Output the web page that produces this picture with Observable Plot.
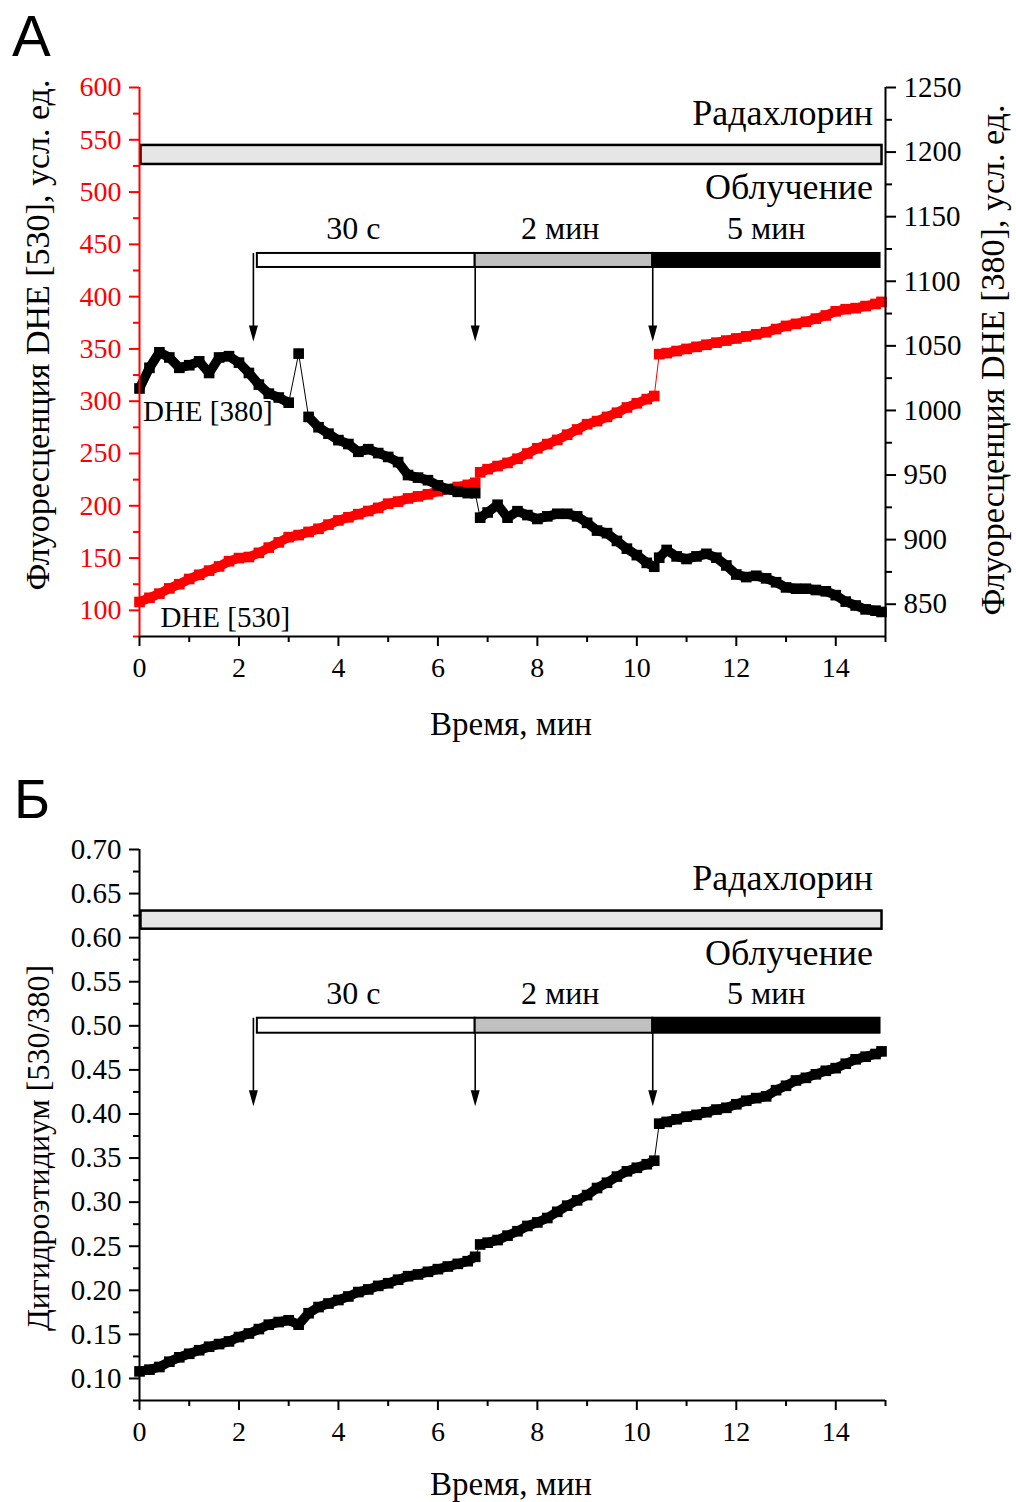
<!DOCTYPE html>
<html><head><meta charset="utf-8">
<script src="https://cdn.jsdelivr.net/npm/d3@7"></script>
<script src="https://cdn.jsdelivr.net/npm/@observablehq/plot@0.6"></script>
<style>
html,body{margin:0;padding:0;background:#fff;overflow:hidden;}
#wrap{position:relative;width:1016px;height:1502px;overflow:hidden;background:#fff;font-family:'Liberation Serif','Times New Roman',serif;color:#000;}
.abs{position:absolute;white-space:nowrap;line-height:1;}
.rot{transform:translate(-50%,-50%) rotate(-90deg);}
.ctr{transform:translate(-50%,-50%);}
.letter{font-family:'Liberation Sans',Arial,sans-serif;}
</style></head><body><div id="wrap"></div>
<script>
// ---- data (time, min) ----
const times = [0,0.2,0.4,0.6,0.8,1,1.2,1.4,1.6,1.8,2,2.2,2.4,2.6,2.8,3,3.2,3.4,3.6,3.8,4,4.2,4.4,4.6,4.8,5,5.2,5.4,5.6,5.8,6,6.2,6.4,6.6,6.75,6.85,7,7.2,7.4,7.6,7.8,8,8.2,8.4,8.6,8.8,9,9.2,9.4,9.6,9.8,10,10.2,10.35,10.45,10.6,10.8,11,11.2,11.4,11.6,11.8,12,12.2,12.4,12.6,12.8,13,13.2,13.4,13.6,13.8,14,14.2,14.4,14.6,14.8,14.92];
// DHE [530], left (red) axis
const dhe530 = [108,112,116,121,125,130,134,138,142,147,150,151,155,160,165,170,172,175,178,182,186,189,192,195,198,202,204,207,209,211,214,216,218,220,222,232,235,238,241,245,250,255,259,263,268,273,278,281,285,289,294,298,302,305,345,346,348,350,352,354,356,358,360,362,364,366,369,372,374,376,379,382,386,388,389,391,393,395];
// DHE [380], right axis
const dhe380 = [1017,1033,1045,1041,1033,1035,1038,1029,1041,1042,1037,1029,1020,1013,1010,1006,1044,995,987,982,977,974,968,970,967,964,960,950,948,946,942,939,937,936,936,917,921,927,917,922,919,916,918,920,920,918,913,907,905,899,893,888,882,879,886,892,887,885,887,889,886,880,873,871,872,870,867,863,862,862,861,860,857,852,849,846,845,844];
// Dihydroethidium ratio [530/380]
const ratio = [0.108,0.110,0.113,0.119,0.124,0.128,0.132,0.136,0.139,0.142,0.147,0.151,0.156,0.161,0.164,0.166,0.161,0.174,0.181,0.185,0.189,0.193,0.198,0.201,0.205,0.208,0.212,0.216,0.218,0.221,0.224,0.227,0.230,0.233,0.238,0.252,0.254,0.257,0.262,0.267,0.273,0.277,0.282,0.289,0.296,0.302,0.308,0.316,0.322,0.329,0.335,0.339,0.343,0.347,0.389,0.391,0.394,0.397,0.399,0.402,0.405,0.407,0.411,0.415,0.418,0.420,0.427,0.432,0.438,0.441,0.445,0.449,0.452,0.457,0.462,0.465,0.468,0.471];

// ---- ticks ----
const xTicks = [0,2,4,6,8,10,12,14];
const xMinor = [1,3,5,7,9,11,13,15];
const leftTicks = [100,150,200,250,300,350,400,450,500,550,600];
const leftMinor = [75,125,175,225,275,325,375,425,475,525,575];
const rightTicks = [850,900,950,1000,1050,1100,1150,1200,1250];
const rightMinor = [875,925,975,1025,1075,1125,1175,1225];
const ratioTicks = [0.10,0.15,0.20,0.25,0.30,0.35,0.40,0.45,0.50,0.55,0.60,0.65,0.70];
const ratioMinor = [0.075,0.125,0.175,0.225,0.275,0.325,0.375,0.425,0.475,0.525,0.575,0.625,0.675];

// ---- annotations (time in min) ----
const radachlorin = {x1: 0.03, x2: 14.93};
const irradiation = [
  {x1: 2.37, x2: 6.75, label: "30 с", mid: 4.30},
  {x1: 6.75, x2: 10.32, label: "2 мин", mid: 8.46},
  {x1: 10.32, x2: 14.89, label: "5 мин", mid: 12.6}
];
const arrowTimes = [2.29, 6.75, 10.32];
const jumpTimes = [6.8, 10.4];     // breaks between irradiation steps
const spikeTime = 3.2;             // isolated DHE[380] outlier
const labelRad = "Радахлорин";
const labelIrr = "Облучение";
const seriesLabels = [{t: 0.07, v: 281, text: "DHE [380]"}, {t: 0.42, v: 84.5, text: "DHE [530]"}];

// ---- scales ----
const L0 = 75, L1 = 600, R0 = 825, R1 = 1250;
const toLeft = v => L0 + (v - R0) * (L1 - L0) / (R1 - R0);
const fromLeft = v => R0 + (v - L0) * (R1 - R0) / (L1 - L0);
const seg = t => jumpTimes.filter(j => j < t).length;
const seg380 = t => Math.abs(t - spikeTime) < 0.05 ? "s" : (t < spikeTime ? "p" : "q") + seg(t);

const rowsA = times.map((t, i) => ({t, a: dhe530[i], b: toLeft(dhe380[i]), ga: seg(t), gb: seg380(t)}));
const rowsB = times.map((t, i) => ({t, r: ratio[i], g: seg(t)}));

const FONT = "'Liberation Serif','Times New Roman',serif";
const headSym = {draw(ctx) { ctx.moveTo(0, 0); ctx.lineTo(-4.5, -16); ctx.lineTo(4.5, -16); ctx.closePath(); }};
const SQ = 6.0;   // square marker radius
const BAND = 9.5; // band width joining markers

function annot(ys) {
  return [
    Plot.text([labelRad], {x: 14.75, y: ys.radText, text: d => d, textAnchor: "end", lineAnchor: "bottom", fontSize: 36, fill: "black"}),
    Plot.rect([radachlorin], {x1: "x1", x2: "x2", y1: ys.radLo, y2: ys.radHi, fill: "#e6e6e6", stroke: "black", strokeWidth: 2.5}),
    Plot.text([labelIrr], {x: 14.75, y: ys.irrText, text: d => d, textAnchor: "end", lineAnchor: "bottom", fontSize: 36, fill: "black"}),
    Plot.text(irradiation, {x: "mid", y: ys.segText, text: "label", textAnchor: "middle", lineAnchor: "bottom", fontSize: 32, fill: "black"}),
    Plot.ruleX(arrowTimes, {y1: ys.irrHi, y2: ys.tip + ys.headOff, stroke: "black", strokeWidth: 1.6}),
    Plot.dot(arrowTimes, {x: d => d, y: ys.tip, symbol: headSym, r: 5, fill: "black", stroke: "none"}),
    Plot.rect([irradiation[0]], {x1: "x1", x2: "x2", y1: ys.irrLo, y2: ys.irrHi, fill: "white", stroke: "black", strokeWidth: 2}),
    Plot.rect([irradiation[1]], {x1: "x1", x2: "x2", y1: ys.irrLo, y2: ys.irrHi, fill: "#c0c0c0", stroke: "black", strokeWidth: 2}),
    Plot.rect([irradiation[2]], {x1: "x1", x2: "x2", y1: ys.irrLo, y2: ys.irrHi, fill: "black", stroke: "black", strokeWidth: 2})
  ];
}

function series(rows, y, z, color) {
  return [
    Plot.line(rows, {x: "t", y, stroke: color, strokeWidth: 1}),
    Plot.line(rows, {x: "t", y, z, stroke: color, strokeWidth: BAND, strokeLinejoin: "round"}),
    Plot.dot(rows, {x: "t", y, symbol: "square", r: SQ, fill: color, stroke: "none"})
  ];
}

function xAxes(yMin) {
  return [
    Plot.axisX(xTicks, {anchor: "bottom", tickSize: 10, tickPadding: 11, strokeWidth: 2, fontSize: 28, label: null, tickFormat: d => String(d)}),
    Plot.axisX(xMinor, {anchor: "bottom", tickSize: 6, strokeWidth: 2, label: null, tickFormat: () => ""}),
    Plot.ruleY([yMin], {stroke: "black", strokeWidth: 2})
  ];
}

// ---- Panel A ----
const plotA = Plot.plot({
  width: 1016, height: 760,
  marginLeft: 139, marginRight: 131, marginTop: 87, marginBottom: 124,
  style: {fontFamily: FONT, fontSize: "28px", background: "white", overflow: "visible"},
  x: {domain: [0, 15], label: null},
  y: {domain: [L0, L1], label: null},
  marks: [
    ...annot({radText: 564.5, radLo: 526.4, radHi: 544.6, irrText: 493, segText: 455.6, irrLo: 427.9, irrHi: 441.3, tip: 357, headOff: 6}),
    ...series(rowsA, "a", "ga", "red"),
    ...series(rowsA, "b", "gb", "black"),
    Plot.text(seriesLabels, {x: "t", y: "v", text: "text", textAnchor: "start", lineAnchor: "bottom", fontSize: 29, fill: "black"}),
    Plot.axisY(leftTicks, {anchor: "left", tickSize: 10, tickPadding: 8, stroke: "red", fill: "red", strokeWidth: 2, fontSize: 28, label: null, tickFormat: d => String(d)}),
    Plot.axisY(leftMinor, {anchor: "left", tickSize: 6, stroke: "red", strokeWidth: 2, label: null, tickFormat: () => ""}),
    Plot.axisY(rightTicks.map(toLeft), {anchor: "right", tickSize: 10, tickPadding: 8, stroke: "black", fill: "black", strokeWidth: 2, fontSize: 29, label: null, tickFormat: d => String(Math.round(fromLeft(d)))}),
    Plot.axisY(rightMinor.map(toLeft), {anchor: "right", tickSize: 6, stroke: "black", strokeWidth: 2, label: null, tickFormat: () => ""}),
    ...xAxes(L0),
    Plot.ruleX([0], {stroke: "red", strokeWidth: 2}),
    Plot.ruleX([15], {stroke: "black", strokeWidth: 2})
  ]
});

// ---- Panel B ----
const B0 = 0.075, B1 = 0.70;
const plotB = Plot.plot({
  width: 1016, height: 742,
  marginLeft: 139, marginRight: 131, marginTop: 89, marginBottom: 102,
  style: {fontFamily: FONT, fontSize: "28px", background: "white", overflow: "visible"},
  x: {domain: [0, 15], label: null},
  y: {domain: [B0, B1], label: null},
  marks: [
    ...annot({radText: 0.6536, radLo: 0.6096, radHi: 0.6302, irrText: 0.5686, segText: 0.5244, irrLo: 0.4916, irrHi: 0.5086, tip: 0.4087, headOff: 0.006}),
    ...series(rowsB, "r", "g", "black"),
    Plot.axisY(ratioTicks, {anchor: "left", tickSize: 10, tickPadding: 8, strokeWidth: 2, fontSize: 29, label: null, tickFormat: d3.format(".2f")}),
    Plot.axisY(ratioMinor, {anchor: "left", tickSize: 6, strokeWidth: 2, label: null, tickFormat: () => ""}),
    ...xAxes(B0),
    Plot.ruleX([0], {stroke: "black", strokeWidth: 2})
  ]
});

const wrap = document.getElementById("wrap");
function place(node, top) {
  node.style.position = "absolute"; node.style.left = "0px"; node.style.top = top + "px";
  wrap.appendChild(node);
}
place(plotA, 0);
place(plotB, 760);

function addText(text, cls, css) {
  const d = document.createElement("div");
  d.className = "abs " + cls;
  d.textContent = text;
  Object.assign(d.style, css);
  wrap.appendChild(d);
}
addText("А", "letter", {left: "12px", top: "7px", fontSize: "58px"});
addText("Б", "letter", {left: "14px", top: "772px", fontSize: "55px"});
addText("Флуоресценция DHE [530], усл. ед.", "rot", {left: "38px", top: "335px", fontSize: "34px"});
addText("Флуоресценция DHE [380], усл. ед.", "rot", {left: "993px", top: "360px", fontSize: "34px"});
addText("Время, мин", "ctr", {left: "511px", top: "724px", fontSize: "33px"});
addText("Дигидроэтидиум [530/380]", "rot", {left: "38px", top: "1148px", fontSize: "32px"});
addText("Время, мин", "ctr", {left: "511px", top: "1484px", fontSize: "33px"});
</script>
</body></html>
